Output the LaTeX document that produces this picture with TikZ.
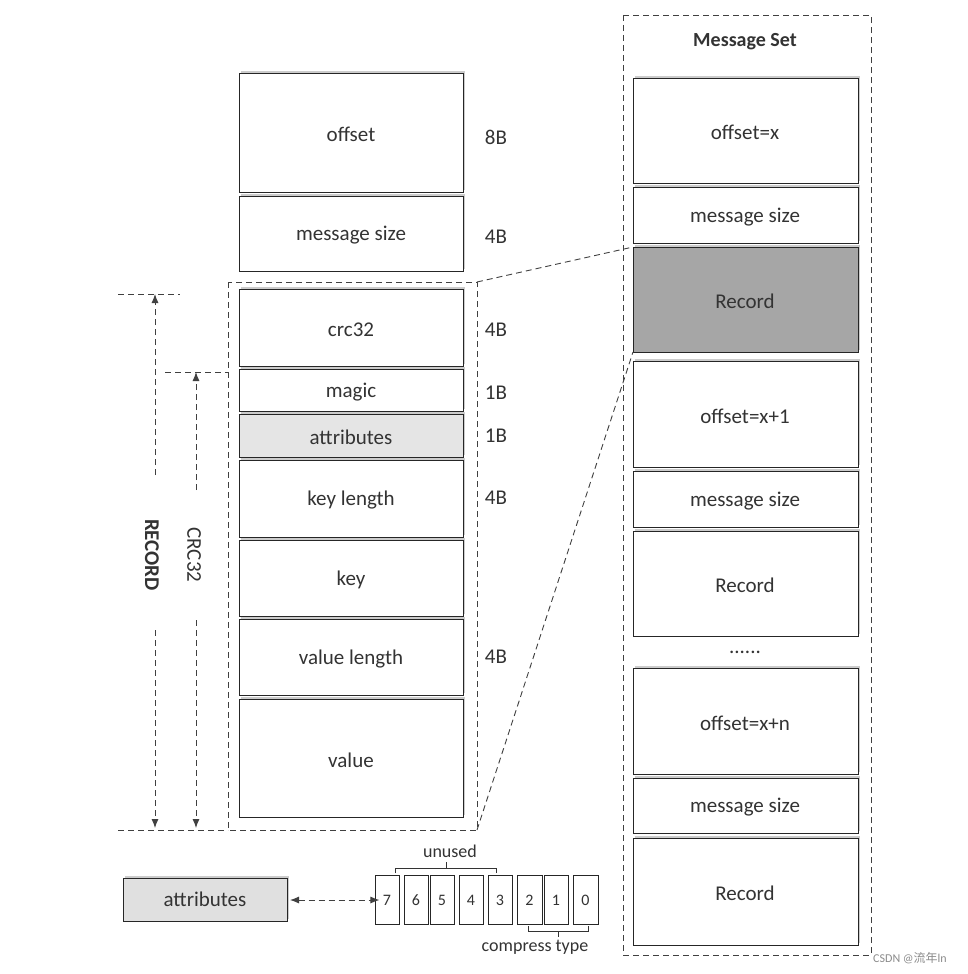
\documentclass[tikz,border=0pt]{standalone}
\usepackage{fontspec}
\setmainfont{Carlito}
\newfontfamily\cjk{Noto Sans CJK SC}
\usetikzlibrary{shadows,arrows.meta}
\begin{document}
\begin{tikzpicture}[x=1pt,y=-1pt,
  box/.style={draw=black!85,line width=1pt,fill=white,drop shadow={opacity=0.4,shadow xshift=2pt,shadow yshift=2pt}},
  lbl/.style={font=\fontsize{21}{24}\selectfont,text=black!80},
  dsh/.style={line width=0.9pt,draw=black!75,dash pattern=on 6pt off 4pt},
  arr/.style={dsh,-{Latex[length=9pt,width=7pt]}}]
\useasboundingbox (0,0) rectangle (968,974);
\fill[white] (0,0) rectangle (968,974);
% left column
\foreach \n/\a/\b/\t/\f in {off/73/192/offset/white, ms/196/271/message size/white, crc/289/366/crc32/white, mag/369/411/magic/white, att/414/457/attributes/black!10, kl/460/537/key length/white, key/540/616/key/white, vl/619/695/value length/white, val/699/817/value/white}{
  \path[box,fill=\f] (239,\a) rectangle (463,\b);
  \node[lbl] (\n) at (351,{(\a+\b)/2+2}) {\t};
}
\foreach \y/\t [count=\i] in {137/8B,237/4B,330/4B,393/1B,436/1B,498/4B,657/4B}
  \node[lbl] (sz\i) at (496,\y) {\t};
\draw[dsh] (228,282) rectangle (477,830);
\coordinate (rtl) at (477,282); \coordinate (rbl) at (477,830);
% RECORD / CRC32
\draw[dsh] (118,294) -- (180,294);
\draw[dsh] (165,372) -- (228,372);
\draw[dsh] (118,830) -- (228,830);
\coordinate (r1) at (155,294); \coordinate (r2) at (155,828);
\coordinate (c1) at (196,372); \coordinate (c2) at (196,828);
\coordinate (r1s) at (155,475); \coordinate (r2s) at (155,630);
\coordinate (c1s) at (196,490); \coordinate (c2s) at (196,620);
\node[lbl,font=\fontsize{21}{24}\selectfont\bfseries,rotate=-90] (rec) at (152,555) {RECORD};
\node[lbl,rotate=-90] (crcl) at (194,555) {CRC32};
\draw[arr] (r1s) -- (r1);
\draw[arr] (r2s) -- (r2);
\draw[arr] (c1s) -- (c1);
\draw[arr] (c2s) -- (c2);
% right
\draw[dsh] (623,15) rectangle (871,955);
\node[lbl,font=\fontsize{20}{24}\selectfont\bfseries] (mset) at (745,42) {Message Set};
\foreach \n/\a/\b/\t/\f in {o1/78/183/{offset=x}/white, m1/187/243/message size/white, R1/247/352/Record/black!35, o2/361/467/{offset=x+1}/white, m2/471/527/message size/white, R2/531/636/Record/white, o3/668/774/{offset=x+n}/white, m3/778/833/message size/white, R3/838/945/Record/white}{
  \path[box,fill=\f] (633,\a) rectangle (858,\b);
  \node[lbl] (\n) at (745,{(\a+\b)/2+2}) {\t};
}
\node[lbl] (dots) at (745,652) {......};
\coordinate (Rtl) at (633,247); \coordinate (Rbl) at (633,352);
\draw[dsh] (rtl) -- (Rtl);
\draw[dsh] (rbl) -- (Rbl);
% attributes bits
\path[box,fill=black!12] (123,878) rectangle (287,921);
\node[lbl] (attr) at (205,899) {attributes};
\foreach \b/\l/\r in {7/375/399,6/404/428,5/430/454,4/459/483,3/488/512,2/517/542,1/544/568,0/573/598}{
  \draw[line width=1pt,black!85] (\l,875) rectangle (\r,924);
  \node[font=\fontsize{16}{18}\selectfont,text=black!80] (b\b) at ({(\l+\r)/2},900) {\b};
}
\coordinate (ae) at (290,900);
\draw[dsh,{Latex[length=9pt,width=7pt]}-{Latex[length=9pt,width=7pt]}] (ae) -- (b7.west);
\draw[line width=1pt,black!80] (395,873) -- (395,868) -- (496,868) -- (496,873) (446,868) -- (446,862);
\node[lbl,font=\fontsize{18}{20}\selectfont] (unused) at (450,851) {unused};
\draw[line width=1pt,black!80] (528,926) -- (528,931) -- (588,931) -- (588,926) (558,931) -- (558,937);
\node[lbl,font=\fontsize{18}{20}\selectfont] (ct) at (535,947) {compress type};
\node[font=\fontsize{12}{14}\selectfont,text=black!45] (wm) at (910,958) {CSDN @{\cjk 流年}ln};
\end{tikzpicture}
\end{document}
